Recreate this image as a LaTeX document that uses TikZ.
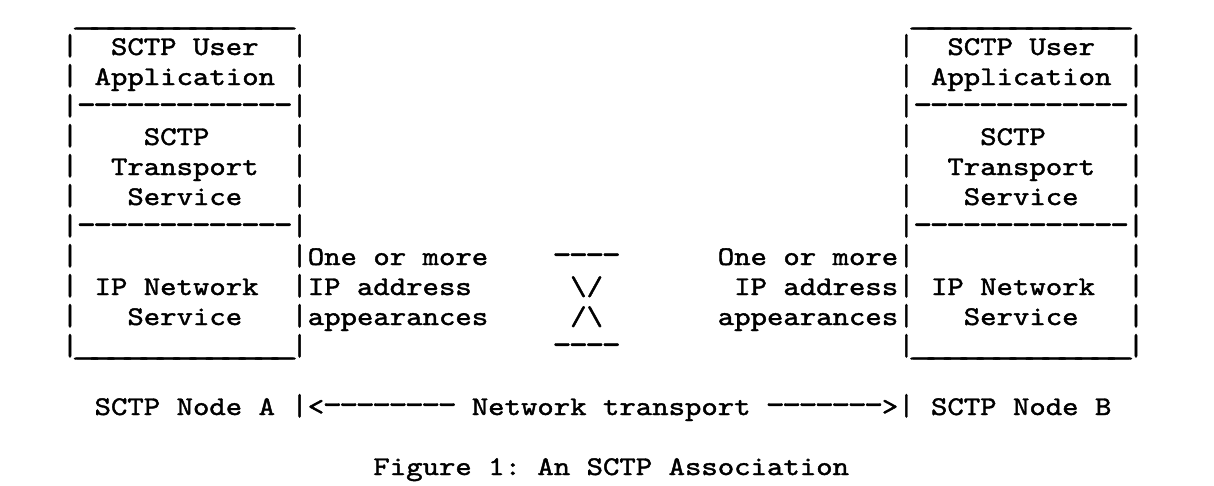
\documentclass[tikz,border=0pt]{standalone}
\usepackage{fontspec}
\newfontfamily\lmmono{lmmono10-regular.otf}[FakeBold=1.4]
\frenchspacing
\tikzset{tt/.style={anchor=base west, inner sep=0pt, outer sep=0pt, font=\lmmono\fontsize{27}{30}\selectfont\frenchspacing}}
\newcommand\thirteen[1]{#1#1#1#1#1#1#1#1#1#1#1#1#1}
\newcommand\seven[1]{#1#1#1#1#1#1#1}
\newcommand\hy{\makebox[0.525em]{\scalebox{1.15}[1.25]{-}}}
\newcommand\us{\makebox[0.525em]{\scalebox{1.9}[1]{\_}}}
\newcommand\wide[1]{\scalebox{1.157}[1]{#1}}
\newcommand\place[4]{\node[tt] (#1) at ({61.8+16.4*#2},{-25-30*#3}) {\wide{#4}};}
\begin{document}
\begin{tikzpicture}[x=1pt,y=1pt]
\fill[white] (0,0) rectangle (1214,-485);
\useasboundingbox (0,0) rectangle (1214,-485);
% top edges
\place{topA}{1}{0}{\thirteen\us}
\place{topB}{52}{0}{\thirteen\us}
% side bars
\foreach \r in {1,...,11}{
  \foreach \c in {0,14,51,65}{
    \node[tt] (bar-\r-\c) at ({61.8+16.4*\c},{-25-30*\r}) {\scalebox{1.157}[1.12]{|}};
  }
}
\foreach \c in {14,51}{
  \node[tt] (bar-13-\c) at ({61.8+16.4*\c},{-25-30*13}) {\scalebox{1.157}[1.12]{|}};
}
% left box
\place{userA}{3}{1}{SCTP User}
\place{appA}{2}{2}{Application}
\place{sepA1}{1}{3}{\thirteen\hy}
\place{sctpA}{5}{4}{SCTP}
\place{transA}{3}{5}{Transport}
\place{servA}{4}{6}{Service}
\place{sepA2}{1}{7}{\thirteen\hy}
\place{ipA}{2}{9}{IP Network}
\place{ipservA}{4}{10}{Service}
\place{botA}{1}{11}{\thirteen\us}
% right box
\place{userB}{54}{1}{SCTP User}
\place{appB}{53}{2}{Application}
\place{sepB1}{52}{3}{\thirteen\hy}
\place{sctpB}{56}{4}{SCTP}
\place{transB}{54}{5}{Transport}
\place{servB}{55}{6}{Service}
\place{sepB2}{52}{7}{\thirteen\hy}
\place{ipB}{53}{9}{IP Network}
\place{ipservB}{55}{10}{Service}
\place{botB}{52}{11}{\thirteen\us}
% middle
\place{oneA}{15}{8}{One or more}
\place{addrA}{15}{9}{IP address}
\place{appearA}{15}{10}{appearances}
\place{oneB}{40}{8}{One or more}
\place{addrB}{41}{9}{IP address}
\place{appearB}{40}{10}{appearances}
\place{xtop}{30}{8}{\hy\hy\hy\hy}
\place{xmid1}{31}{9}{\textbackslash/}
\place{xmid2}{31}{10}{/\textbackslash}
\place{xbot}{30}{11}{\hy\hy\hy\hy}
% bottom line
\place{nodeA}{2}{13}{SCTP Node A}
\place{net}{15}{13}{<\seven\hy\hy{} Network transport \seven\hy>}
\place{nodeB}{53}{13}{SCTP Node B}
\place{caption}{19}{15}{Figure 1: An SCTP Association}
\end{tikzpicture}
\end{document}
